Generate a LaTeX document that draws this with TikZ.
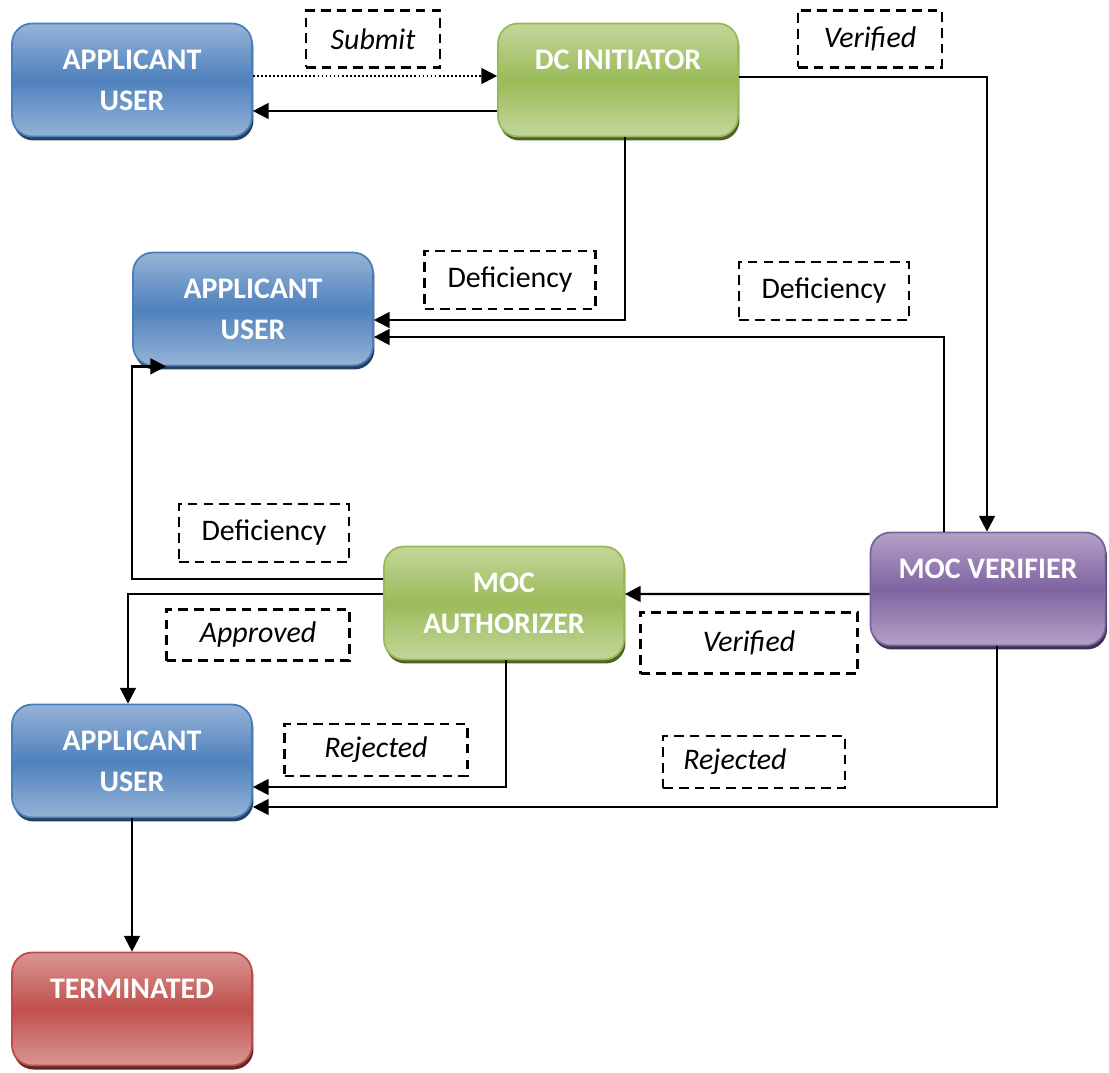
\documentclass[tikz,border=0pt]{standalone}
\usepackage{fontspec}
\setmainfont{Carlito}
\usetikzlibrary{arrows.meta,shadows}

% Box colours
\definecolor{bluelt}{HTML}{95B3D7}
\definecolor{bluedk}{HTML}{4F81BD}
\definecolor{blueln}{HTML}{4A7EBB}
\definecolor{blueshd}{HTML}{254061}
\definecolor{greenlt}{HTML}{C3D69B}
\definecolor{greendk}{HTML}{9BBB59}
\definecolor{greenln}{HTML}{98B954}
\definecolor{greenshd}{HTML}{4F6228}
\definecolor{purplelt}{HTML}{B3A2C7}
\definecolor{purpledk}{HTML}{8064A2}
\definecolor{purpleln}{HTML}{7D60A0}
\definecolor{purpleshd}{HTML}{3F3151}
\definecolor{redlt}{HTML}{D99694}
\definecolor{reddk}{HTML}{C0504D}
\definecolor{redln}{HTML}{BE4B48}
\definecolor{redshd}{HTML}{632523}

\begin{document}
\begin{tikzpicture}[x=0.02cm, y=-0.02cm,
        every node/.style={font=\fontsize{17}{23.3}\selectfont},
        stagebox/.style={rounded corners=0.4cm, minimum width=4.8cm, minimum height=2.26cm,
            align=center, text=white, line width=1pt,
            font=\fontsize{17}{23.3}\selectfont\bfseries},
        bluebox/.style={stagebox, draw=blueln, top color=bluelt, bottom color=bluelt, middle color=bluedk,
            drop shadow={shadow xshift=0.03cm, shadow yshift=-0.08cm, fill=blueshd, opacity=1}},
        greenbox/.style={stagebox, draw=greenln, top color=greenlt, bottom color=greenlt, middle color=greendk,
            drop shadow={shadow xshift=0.03cm, shadow yshift=-0.08cm, fill=greenshd, opacity=1}},
        purplebox/.style={stagebox, draw=purpleln, top color=purplelt, bottom color=purplelt, middle color=purpledk,
            drop shadow={shadow xshift=0.03cm, shadow yshift=-0.08cm, fill=purpleshd, opacity=1}},
        redbox/.style={stagebox, draw=redln, top color=redlt, bottom color=redlt, middle color=reddk,
            drop shadow={shadow xshift=0.03cm, shadow yshift=-0.08cm, fill=redshd, opacity=1}},
        tag/.style={draw, dash pattern=on 5.5pt off 3.5pt, line width=1.4pt, inner sep=0pt},
        flow/.style={line width=1.3pt, -{Triangle[length=9pt,width=9pt]}},
        dotflow/.style={flow, line width=1.3pt, dash pattern=on 1pt off 1.3pt}]

        % Page size
        \useasboundingbox (0,0) rectangle (1109,1072);

        % Draw stages
        \node[bluebox] (app1) at (132,80) {APPLICANT\\USER};
        \node[greenbox] (dcinit) at (618,80) {DC INITIATOR\\\phantom{X}};
        \node[bluebox] (app2) at (253,309) {APPLICANT\\USER};
        \node[greenbox] (mocauth) at (504,603) {MOC\\AUTHORIZER};
        \node[purplebox, minimum width=4.7cm] (mocver) at (988,589) {MOC VERIFIER\\\phantom{X}};
        \node[bluebox] (app3) at (132,761) {APPLICANT\\USER};
        \node[redbox] (term) at (132,1009) {TERMINATED\\\phantom{X}};

        % Draw labels
        \node[tag, minimum width=2.68cm, minimum height=1.14cm] (submit) at (373,39) {\itshape Submit};
        \node[tag, minimum width=2.88cm, minimum height=1.14cm] (verif1) at (870,39) {\itshape Verified};
        \node[tag, minimum width=3.42cm, minimum height=1.16cm] (defic1) at (510,280) {Deficiency};
        \node[tag, minimum width=3.4cm, minimum height=1.16cm] (defic2) at (824,291) {Deficiency};
        \node[tag, minimum width=3.4cm, minimum height=1.16cm] (defic3) at (264,533) {Deficiency};
        \node[tag, minimum width=3.66cm, minimum height=1.02cm] (approv) at (258,635) {\itshape Approved};
        \node[tag, minimum width=4.34cm, minimum height=1.22cm] (verif2) at (749,643) {\itshape Verified};
        \node[tag, minimum width=3.66cm, minimum height=1.04cm] (reject1) at (376,750) {\itshape Rejected};
        \node[tag, minimum width=3.64cm, minimum height=1.04cm] (reject2) at (754,762) {\itshape Rejected\hspace*{0.76cm}};

        % Draw connectors
        \draw[dotflow] ([yshift=0.08cm]app1.east) -- ([yshift=0.08cm]dcinit.west);
        \draw[flow] ([yshift=-0.62cm]dcinit.west) -- ([yshift=-0.62cm]app1.east);
        \draw[flow] ([yshift=0.06cm]dcinit.east) -| ([xshift=-0.02cm]mocver.north);
        \draw[flow] ([xshift=0.14cm]dcinit.south) |- ([yshift=-0.22cm]app2.east);
        \draw[flow] ([xshift=-0.88cm]mocver.north) |- ([yshift=-0.56cm]app2.east);
        \draw[flow] ([yshift=0.48cm]mocauth.west) -| (app2.south west) -- ([xshift=0.68cm]app2.south west);
        \draw[flow] ([yshift=-0.1cm]mocver.west) -- ([yshift=0.18cm]mocauth.east);
        \draw[flow] ([yshift=0.18cm]mocauth.west) -| ([xshift=-0.08cm]app3.north);
        \draw[flow] ([xshift=0.04cm]mocauth.south) |- ([yshift=-0.52cm]app3.east);
        \draw[flow] ([xshift=0.18cm]mocver.south) |- ([yshift=-0.92cm]app3.east);
        \draw[flow] (app3.south) -- (term.north);
\end{tikzpicture}
\end{document}
